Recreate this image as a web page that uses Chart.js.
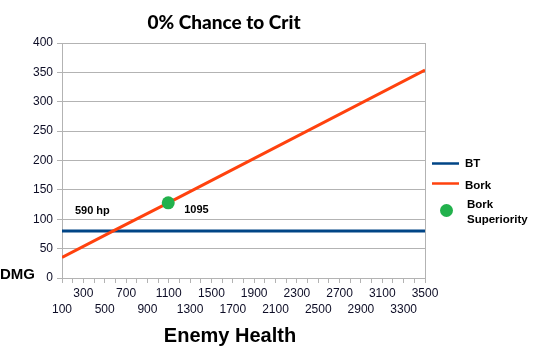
<!DOCTYPE html>
<html>
<head>
<meta charset="utf-8">
<script src="https://cdn.jsdelivr.net/npm/chart.js@4"></script>
<style>
html,body{margin:0;padding:0;background:#fff;}
#wrap{width:536px;height:357px;position:relative;}
</style>
</head>
<body>
<div id="wrap"><canvas id="c" width="536" height="357"></canvas></div>
<script>
// ---- data ----
const chartTitle = '0% Chance to Crit';
const xTitle = 'Enemy Health';
const yTitle = 'DMG';
const seriesNames = ['BT', 'Bork', 'Bork Superiority'];
const btX = [100, 3500];
const btY = [80, 80];
const borkX = [100, 590, 1095, 3500];
const borkY = [35, 81, 128, 354];
const superiorityX = [1095];
const superiorityY = [128];
const crossoverLabel = '590 hp';
const crossoverX = 590;
const crossoverY = 80;
const superiorityLabel = '1095';
const xTickLabels = [100, 300, 500, 700, 900, 1100, 1300, 1500, 1700, 1900, 2100, 2300, 2500, 2700, 2900, 3100, 3300, 3500];
const yTickValues = [0, 50, 100, 150, 200, 250, 300, 350, 400];

const colBT = '#004586';
const colBork = '#ff420e';
const colSup = '#22b14c';
const gridCol = '#b3b3b3';
const txtCol = '#0d0d26';
const FONT = "'Liberation Sans', Arial, sans-serif";

const pts = (xs, ys) => xs.map((x, i) => ({x: x, y: ys[i]}));

const customPlugin = {
  id: 'customText',
  afterDraw(chart) {
    const ctx = chart.ctx;
    const xs = chart.scales.x, ys = chart.scales.y;
    ctx.save();
    // Title
    ctx.fillStyle = '#000';
    ctx.textAlign = 'center';
    ctx.textBaseline = 'middle';
    ctx.font = "900 19px Lato, 'Open Sans', sans-serif";
    ctx.fillText(chartTitle, 224, 23);
    // X title
    ctx.font = 'bold 20px ' + FONT;
    ctx.fillText(xTitle, 230, 336);
    // Y title
    ctx.textAlign = 'left';
    ctx.font = 'bold 15px ' + FONT;
    ctx.fillText(yTitle, 0, 275);
    // data labels
    ctx.font = 'bold 11px ' + FONT;
    ctx.textAlign = 'center';
    const cx = xs.getPixelForValue(crossoverX), cy = ys.getPixelForValue(crossoverY);
    ctx.fillText(crossoverLabel, cx - 22, cy - 20);
    ctx.textAlign = 'left';
    const sx = xs.getPixelForValue(superiorityX[0]), sy = ys.getPixelForValue(superiorityY[0]);
    ctx.fillText(superiorityLabel, sx + 16, sy + 7);
    // legend
    ctx.font = 'bold 11.5px ' + FONT;
    ctx.lineWidth = 2.5;
    ctx.strokeStyle = colBT;
    ctx.beginPath(); ctx.moveTo(432, 163.5); ctx.lineTo(459, 163.5); ctx.stroke();
    ctx.fillText(seriesNames[0], 465, 164);
    ctx.strokeStyle = colBork;
    ctx.beginPath(); ctx.moveTo(432, 183.5); ctx.lineTo(459, 183.5); ctx.stroke();
    ctx.fillText(seriesNames[1], 465, 185.5);
    ctx.fillStyle = colSup;
    ctx.beginPath(); ctx.arc(446.5, 210.5, 6.5, 0, Math.PI * 2); ctx.fill();
    ctx.fillStyle = '#000';
    const parts = seriesNames[2].split(' ');
    ctx.fillText(parts[0], 467, 205);
    ctx.fillText(parts[1], 467, 219.5);
    ctx.restore();
  }
};

new Chart(document.getElementById('c'), {
  type: 'scatter',
  data: {
    datasets: [
      {label: seriesNames[0], data: pts(btX, btY), showLine: true, borderColor: colBT, borderWidth: 3, pointRadius: 0, order: 3},
      {label: seriesNames[1], data: pts(borkX, borkY), showLine: true, borderColor: colBork, borderWidth: 3, pointRadius: 0, order: 2},
      {label: seriesNames[2], data: pts(superiorityX, superiorityY), showLine: false, backgroundColor: colSup, borderColor: colSup, pointRadius: 6.5, borderWidth: 0, order: 1}
    ]
  },
  options: {
    responsive: false,
    animation: false,
    layout: {padding: {left: 0, top: 43, right: 111, bottom: 0}},
    plugins: {legend: {display: false}, title: {display: false}, tooltip: {enabled: false}},
    scales: {
      x: {
        type: 'linear', min: 100, max: 3500,
        afterFit(s) { s.height = 79; },
        border: {color: gridCol, width: 1},
        grid: {
          color: c => (c.tick && c.tick.value === 3500) ? gridCol : 'rgba(0,0,0,0)',
          tickColor: gridCol, tickLength: 5, drawTicks: true
        },
        ticks: {
          stepSize: 100, maxTicksLimit: 100, autoSkip: false, maxRotation: 0, padding: 3,
          color: txtCol, font: {family: FONT, size: 12, lineHeight: 1.3},
          callback(v) {
            const k = xTickLabels.indexOf(v);
            if (k < 0) return '';
            return (k % 2 === 0) ? ['', String(v)] : [String(v)];
          }
        }
      },
      y: {
        min: 0, max: 400,
        afterFit(s) { s.width = 62; },
        border: {color: gridCol, width: 1},
        grid: {color: gridCol, tickColor: gridCol, tickLength: 5},
        afterBuildTicks(s) { s.ticks = yTickValues.map(v => ({value: v})); },
        ticks: {color: txtCol, padding: 4, font: {family: FONT, size: 12}}
      }
    }
  },
  plugins: [customPlugin]
});
</script>
</body>
</html>
